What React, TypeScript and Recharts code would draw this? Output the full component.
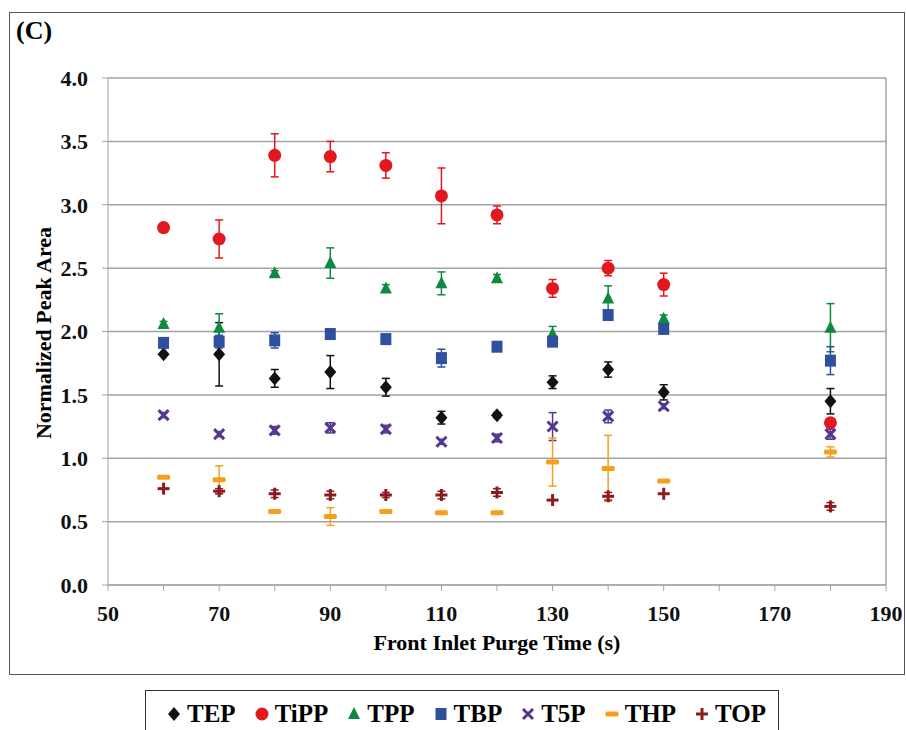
import { ScatterChart, Scatter, XAxis, YAxis, CartesianGrid, ErrorBar, ReferenceLine } from "recharts"

const purgeTimes = [60, 70, 80, 90, 100, 110, 120, 130, 140, 150, 180]

const tepValues = [1.82, 1.82, 1.63, 1.68, 1.56, 1.32, 1.34, 1.6, 1.7, 1.52, 1.45]
const tepErrors = [0, 0.25, 0.07, 0.13, 0.07, 0.05, 0.02, 0.05, 0.06, 0.06, 0.1]

const tippValues = [2.82, 2.73, 3.39, 3.38, 3.31, 3.07, 2.92, 2.34, 2.5, 2.37, 1.28]
const tippErrors = [0.02, 0.15, 0.17, 0.12, 0.1, 0.22, 0.07, 0.07, 0.06, 0.09, 0.03]

const tppValues = [2.06, 2.03, 2.46, 2.54, 2.34, 2.38, 2.42, 1.98, 2.26, 2.1, 2.03]
const tppErrors = [0.02, 0.11, 0.02, 0.12, 0.03, 0.09, 0.03, 0.06, 0.1, 0.03, 0.19]

const tbpValues = [1.91, 1.92, 1.93, 1.98, 1.94, 1.79, 1.88, 1.92, 2.13, 2.02, 1.77]
const tbpErrors = [0.02, 0.05, 0.06, 0.03, 0.02, 0.07, 0.02, 0.03, 0.04, 0.03, 0.11]

const t5pValues = [1.34, 1.19, 1.22, 1.24, 1.23, 1.13, 1.16, 1.25, 1.33, 1.41, 1.19]
const t5pErrors = [0.02, 0.02, 0.03, 0.04, 0.03, 0.02, 0.03, 0.11, 0.05, 0.02, 0.04]

const thpValues = [0.85, 0.83, 0.58, 0.54, 0.58, 0.57, 0.57, 0.97, 0.92, 0.82, 1.05]
const thpErrors = [0, 0.11, 0.01, 0.07, 0.01, 0.01, 0.01, 0.19, 0.26, 0, 0.04]

const topValues = [0.76, 0.74, 0.72, 0.71, 0.71, 0.71, 0.73, 0.67, 0.7, 0.72, 0.62]
const topErrors = [0, 0.02, 0.03, 0.03, 0.02, 0.03, 0.03, 0, 0.03, 0, 0.03]

const xTicks = [50, 60, 70, 80, 90, 100, 110, 120, 130, 140, 150, 160, 170, 180, 190]
const yTicks = [0, 0.5, 1, 1.5, 2, 2.5, 3, 3.5, 4]

const seriesNames = ["TEP", "TiPP", "TPP", "TBP", "T5P", "THP", "TOP"]
const seriesColors = ["#111111", "#e3171f", "#0d8a3e", "#2f4f9f", "#56378f", "#f5a01a", "#8c1a1f"]
const seriesShapes = ["diamond", "circle", "triangle", "square", "cross", "dash", "plus"]
const seriesValues = [tepValues, tippValues, tppValues, tbpValues, t5pValues, thpValues, topValues]
const seriesErrors = [tepErrors, tippErrors, tppErrors, tbpErrors, t5pErrors, thpErrors, topErrors]

const FONT = '"Liberation Serif", serif'
const GRID = "#a3a3a3"

function Glyph({ kind, cx, cy, color }: { kind: string; cx: number; cy: number; color: string }) {
  switch (kind) {
    case "diamond":
      return <polygon points={`${cx},${cy - 7} ${cx + 6},${cy} ${cx},${cy + 7} ${cx - 6},${cy}`} fill={color} />
    case "circle":
      return <circle cx={cx} cy={cy} r={6.5} fill={color} />
    case "triangle":
      return <polygon points={`${cx},${cy - 7} ${cx + 6},${cy + 5} ${cx - 6},${cy + 5}`} fill={color} />
    case "square":
      return <rect x={cx - 5.5} y={cy - 6} width={11} height={12} fill={color} />
    case "cross":
      return (
        <g stroke={color} strokeWidth={3}>
          <line x1={cx - 5} y1={cy - 5} x2={cx + 5} y2={cy + 5} />
          <line x1={cx - 5} y1={cy + 5} x2={cx + 5} y2={cy - 5} />
        </g>
      )
    case "dash":
      return <rect x={cx - 6.5} y={cy - 2.5} width={13} height={5} rx={1.5} fill={color} />
    default:
      return (
        <g stroke={color} strokeWidth={3}>
          <line x1={cx - 6} y1={cy} x2={cx + 6} y2={cy} />
          <line x1={cx} y1={cy - 6} x2={cx} y2={cy + 6} />
        </g>
      )
  }
}

export default function App() {
  const series = seriesNames.map((name, s) => ({
    name,
    color: seriesColors[s],
    shape: seriesShapes[s],
    data: purgeTimes.map((x, i) => ({ x, y: seriesValues[s][i], err: seriesErrors[s][i] })),
  }))

  return (
    <div style={{ position: "absolute", left: 0, top: 0, width: 906, height: 730, overflow: "hidden", background: "#fff" }}>
      <div style={{ position: "absolute", left: 9, top: 12, width: 894, height: 661, border: "1.5px solid #555" }} />
      <div style={{ position: "absolute", left: 16, top: 16, fontFamily: FONT, fontWeight: "bold", fontSize: 26 }}>(C)</div>

      <div style={{ position: "absolute", left: 0, top: 0 }}>
        <ScatterChart width={906} height={730} margin={{ top: 78, right: 20, bottom: 105, left: 8 }}>
          <CartesianGrid vertical={false} stroke={GRID} strokeWidth={1.5} />
          <XAxis
            type="number"
            dataKey="x"
            domain={[50, 190]}
            ticks={xTicks}
            interval={0}
            height={40}
            tickSize={6}
            tickMargin={14}
            stroke={GRID}
            tickFormatter={(v: number) => ((v - 50) % 20 === 0 ? String(v) : "")}
            tick={{ fill: "#111", fontFamily: FONT, fontWeight: "bold", fontSize: 22 }}
          />
          <YAxis
            type="number"
            dataKey="y"
            domain={[0, 4]}
            ticks={yTicks}
            interval={0}
            width={100}
            tickSize={6}
            tickMargin={14}
            stroke={GRID}
            tickFormatter={(v: number) => v.toFixed(1)}
            tick={{ fill: "#111", fontFamily: FONT, fontWeight: "bold", fontSize: 22 }}
          />
          <ReferenceLine x={190} stroke={GRID} strokeWidth={1.5} />
          {series.map((sr) => (
            <Scatter
              key={sr.name}
              name={sr.name}
              data={sr.data}
              isAnimationActive={false}
              shape={(p: any) => <Glyph kind={sr.shape} cx={p.cx} cy={p.cy} color={sr.color} />}
            >
              <ErrorBar dataKey="err" direction="y" width={4} stroke={sr.color} strokeWidth={1.5} />
            </Scatter>
          ))}
        </ScatterChart>
      </div>

      <div
        style={{
          position: "absolute",
          left: 372,
          top: 630,
          width: 250,
          textAlign: "center",
          fontFamily: FONT,
          fontWeight: "bold",
          fontSize: 22,
          whiteSpace: "nowrap",
        }}
      >
        Front Inlet Purge Time (s)
      </div>
      <div
        style={{
          position: "absolute",
          left: 44,
          top: 333,
          transform: "translate(-50%, -50%) rotate(-90deg)",
          fontFamily: FONT,
          fontWeight: "bold",
          fontSize: 22,
          whiteSpace: "nowrap",
        }}
      >
        Normalized Peak Area
      </div>

      <div
        style={{
          position: "absolute",
          left: 145,
          top: 690,
          width: 634,
          height: 60,
          border: "1.5px solid #333",
          display: "flex",
          justifyContent: "flex-start",
          paddingLeft: 20,
          paddingTop: 7,
          boxSizing: "border-box",
          fontFamily: FONT,
          fontWeight: "bold",
          fontSize: 25,
        }}
      >
        {series.map((sr) => (
          <div key={sr.name} style={{ display: "flex", alignItems: "center", marginRight: 18, height: 32 }}>
            <svg width={16} height={16} style={{ marginRight: 5 }}>
              <Glyph kind={sr.shape} cx={8} cy={8} color={sr.color} />
            </svg>
            <span>{sr.name}</span>
          </div>
        ))}
      </div>
    </div>
  )
}
